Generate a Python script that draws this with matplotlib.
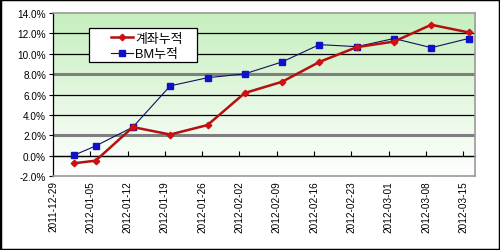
import numpy as np
import matplotlib
matplotlib.use("Agg")
import matplotlib.pyplot as plt
import matplotlib.dates as mdates
from matplotlib.colors import LinearSegmentedColormap
from datetime import datetime, timedelta

plt.rcParams['font.family'] = ['Liberation Sans', 'Noto Sans CJK KR', 'DejaVu Sans']

# data
dates = ["2012-01-02", "2012-01-06", "2012-01-13", "2012-01-20", "2012-01-27", "2012-02-03",
         "2012-02-10", "2012-02-17", "2012-02-24", "2012-03-02", "2012-03-09", "2012-03-16"]
account = [-0.75, -0.5, 2.8, 2.07, 3.0, 6.15, 7.25, 9.2, 10.65, 11.2, 12.85, 12.1]
bm = [0.05, 0.95, 2.8, 6.85, 7.65, 8.03, 9.2, 10.9, 10.7, 11.5, 10.6, 11.5]
labels = ["계좌누적", "BM누적"]
tick_start = "2011-12-29"
n_ticks = 12
y_ticks = [-2, 0, 2, 4, 6, 8, 10, 12, 14]

x = [datetime.strptime(d, "%Y-%m-%d") for d in dates]
t0 = datetime.strptime(tick_start, "%Y-%m-%d")
xticks = [t0 + timedelta(days=7 * i) for i in range(n_ticks)]
xmin, xmax = t0, t0 + timedelta(days=79.2)

fig = plt.figure(figsize=(5, 2.51), dpi=100)
ax = fig.add_axes([0.106, 0.295, 0.844, 0.649])

# green gradient background
cmap = LinearSegmentedColormap.from_list("bg", ["#ffffff", "#c6efbe"])
grad = np.linspace(0, 1, 256).reshape(-1, 1)
ax.imshow(grad, cmap=cmap, aspect="auto", origin="lower", extent=[0, 1, 0, 1],
          transform=ax.transAxes, zorder=0)

ax.set_xlim(xmin, xmax)
ax.set_ylim(-2, 14)

# horizontal grid lines
for v in y_ticks[1:-1]:
    if v in (2, 8):
        ax.axhline(v, color="#7f7f7f", lw=2.2, zorder=1)
    else:
        ax.axhline(v, color="black", lw=0.9, zorder=1)

ax.plot(x, account, color="#b41010", lw=1.8, marker="D", ms=3.3,
        mfc="#d01010", mec="#d01010", label=labels[0], zorder=4)
ax.plot(x, bm, color="#101060", lw=0.8, marker="s", ms=4.5,
        mfc="#1010c8", mec="#1010c8", label=labels[1], zorder=3)

ax.set_yticks(y_ticks)
ax.set_yticklabels([f"{v:.1f}%" for v in y_ticks], fontsize=7.2)
ax.tick_params(axis="y", direction="out", length=3, width=0.8, pad=2)

ax.set_xticks(xticks)
ax.xaxis.set_major_formatter(mdates.DateFormatter("%Y-%m-%d"))
ax.tick_params(axis="x", length=0, pad=3, labelsize=7.2, labelrotation=90)

# category axis crossing at 0%
sec = ax.secondary_xaxis(2 / 16)
sec.set_xticks(xticks)
sec.tick_params(axis="x", direction="in", length=3.5, width=0.8, labelbottom=False)
sec.spines["bottom"].set_color("black")
sec.spines["bottom"].set_linewidth(0.9)

for s in ("top", "right", "bottom"):
    ax.spines[s].set_color("#9a9a9a")
    ax.spines[s].set_linewidth(1.2)
ax.spines["left"].set_color("black")
ax.spines["left"].set_linewidth(0.9)

# legend box (Excel style, wide padding)
ax.add_patch(plt.Rectangle((0.085, 0.70), 0.256, 0.208, transform=ax.transAxes,
                           facecolor="white", edgecolor="black", lw=0.9, zorder=5))
leg = ax.legend(loc="upper left", bbox_to_anchor=(0.137, 0.878), fontsize=9.3,
                frameon=False, handlelength=1.75, handletextpad=0.15, borderpad=0,
                borderaxespad=0, labelspacing=0.25)
leg.set_zorder(6)

fig.patches.append(plt.Rectangle((0, 0), 1, 1, transform=fig.transFigure,
                                 fill=False, edgecolor="black", lw=2.5))

fig.savefig("out.png", dpi=100)
